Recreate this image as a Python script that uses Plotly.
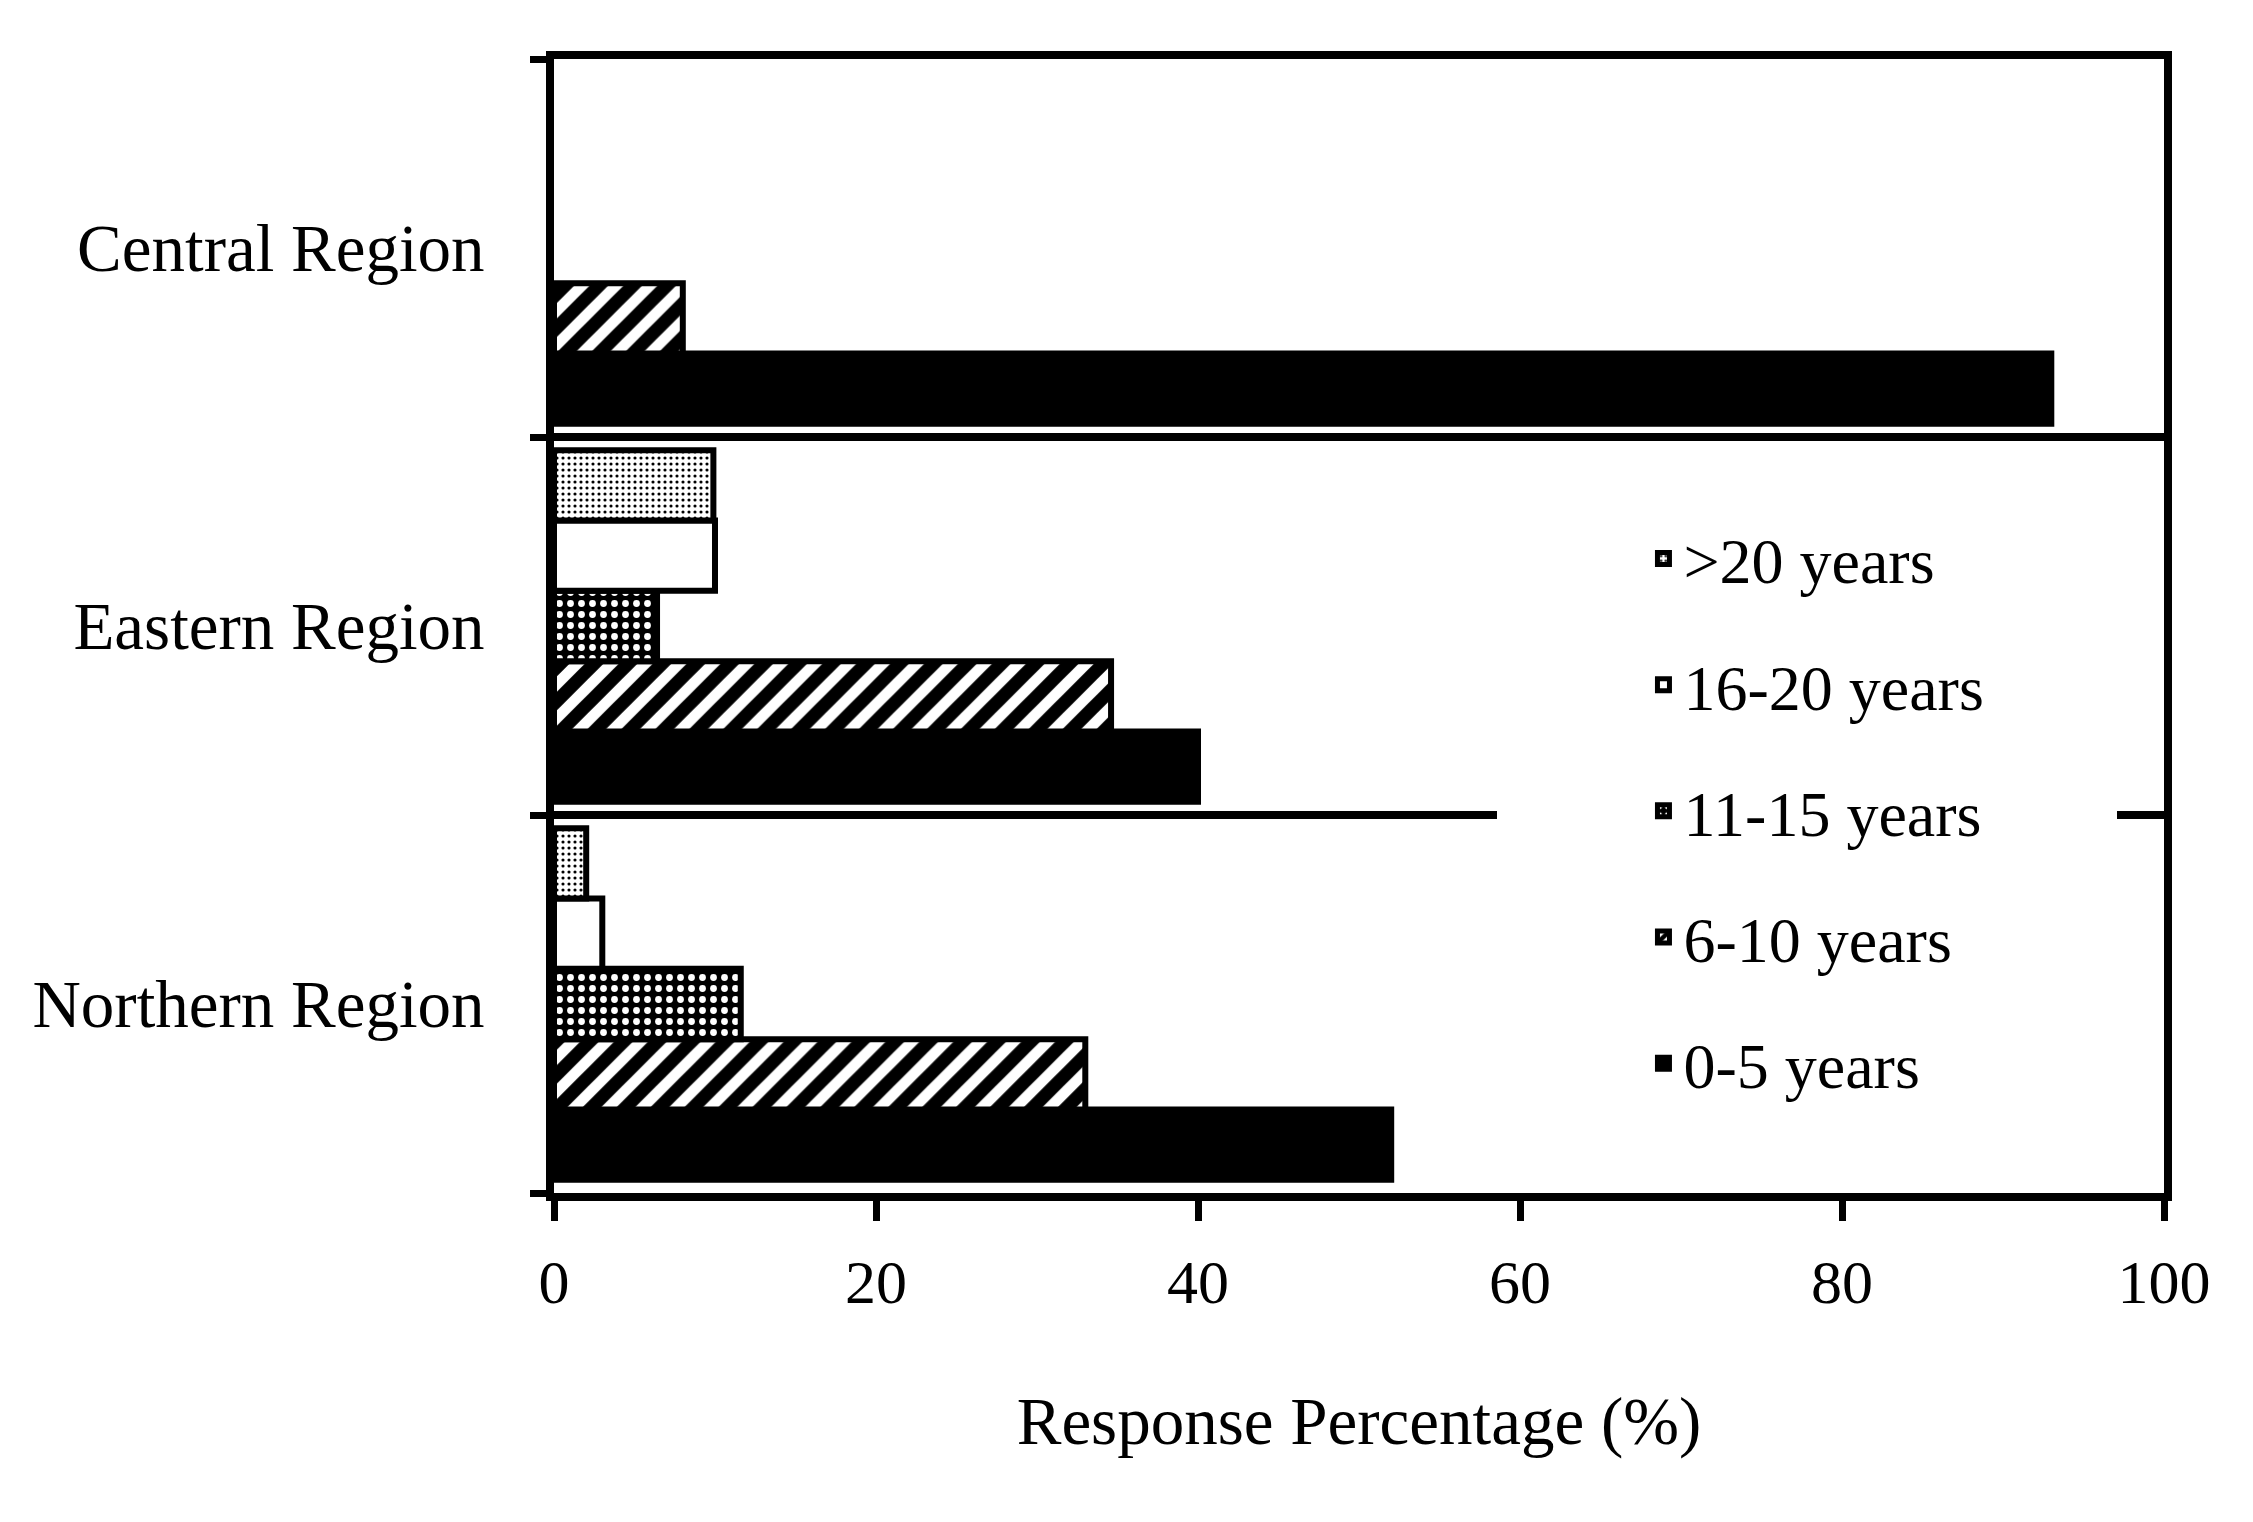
import plotly.graph_objects as go

# regioes (de baixo para cima, como no grafico original)
regioes = ['Northern Region', 'Eastern Region', 'Central Region']

# percentagem de respostas por faixa de anos
anos_0_5 = [52, 40, 93]
anos_6_10 = [33, 34.6, 8]
anos_11_15 = [11.6, 6.4, 0]
anos_16_20 = [3, 10, 0]
anos_mais_20 = [2, 9.9, 0]

faixas = ['0-5 years', '6-10 years', '11-15 years', '16-20 years', '>20 years']
valores = [anos_0_5, anos_6_10, anos_11_15, anos_16_20, anos_mais_20]

# padroes de preenchimento (tons de preto e branco)
padroes = [
    dict(shape='', fgcolor='black', bgcolor='black'),
    dict(shape='/', fgcolor='black', bgcolor='white', size=24, solidity=0.55),
    dict(shape='.', fgcolor='white', bgcolor='black', size=11, solidity=0.3),
    dict(shape='', fgcolor='white', bgcolor='white'),
    dict(shape='.', fgcolor='black', bgcolor='white', size=6, solidity=0.22),
]
cores = ['black', 'white', 'black', 'white', 'white']

fonte = 'Liberation Serif'
# espacos nao separaveis so para alargar o fundo branco da legenda
folga = '\u00a0' * 8

fig = go.Figure()
for i in range(len(faixas)):
    # sem contorno nas barras de valor zero (senao aparece um traco no eixo)
    contorno = [6 if v > 0 else 0 for v in valores[i]]
    fig.add_trace(go.Bar(y=regioes,
                         x=valores[i],
                         orientation='h',
                         name=faixas[i] + folga,
                         legendgroup=faixas[i],
                         legendrank=len(faixas) - i,
                         marker=dict(color=cores[i],
                                     pattern=dict(fillmode='replace', fgopacity=1, **padroes[i]),
                                     line=dict(color='black', width=contorno))))

# a pagina tem 8px de margem no body, por isso a figura fica um pouco menor
fig.update_layout(width=2237, height=1506,
                  barmode='group',
                  bargap=0.07,
                  bargroupgap=0,
                  plot_bgcolor='white',
                  paper_bgcolor='white',
                  font=dict(family=fonte, size=62, color='black'),
                  margin=dict(l=546, r=81, t=51, b=321),
                  legend=dict(traceorder='grouped',
                              tracegroupgap=40,
                              x=0.586, xanchor='left',
                              y=0.602, yanchor='top',
                              bgcolor='white',
                              indentation=146,
                              font=dict(family=fonte, size=64)),
                  showlegend=True)

fig.update_xaxes(range=[0, 100], dtick=20,
                 showgrid=False, zeroline=False,
                 showline=True, linecolor='black', linewidth=8, mirror=True,
                 ticks='outside', ticklen=20, tickwidth=7, tickcolor='black',
                 ticklabelstandoff=8,
                 tickfont=dict(family=fonte, size=62),
                 title=dict(text='Response Percentage (%)', standoff=85,
                            font=dict(family=fonte, size=67)))

fig.update_yaxes(type='category', categoryorder='array', categoryarray=regioes,
                 tickson='boundaries',
                 showgrid=True, gridcolor='black', gridwidth=8,
                 showline=True, linecolor='black', linewidth=8, mirror=True,
                 ticks='outside', ticklen=16, tickwidth=7, tickcolor='black',
                 ticklabelstandoff=48,
                 tickfont=dict(family=fonte, size=67))

fig.write_html('out.html')
